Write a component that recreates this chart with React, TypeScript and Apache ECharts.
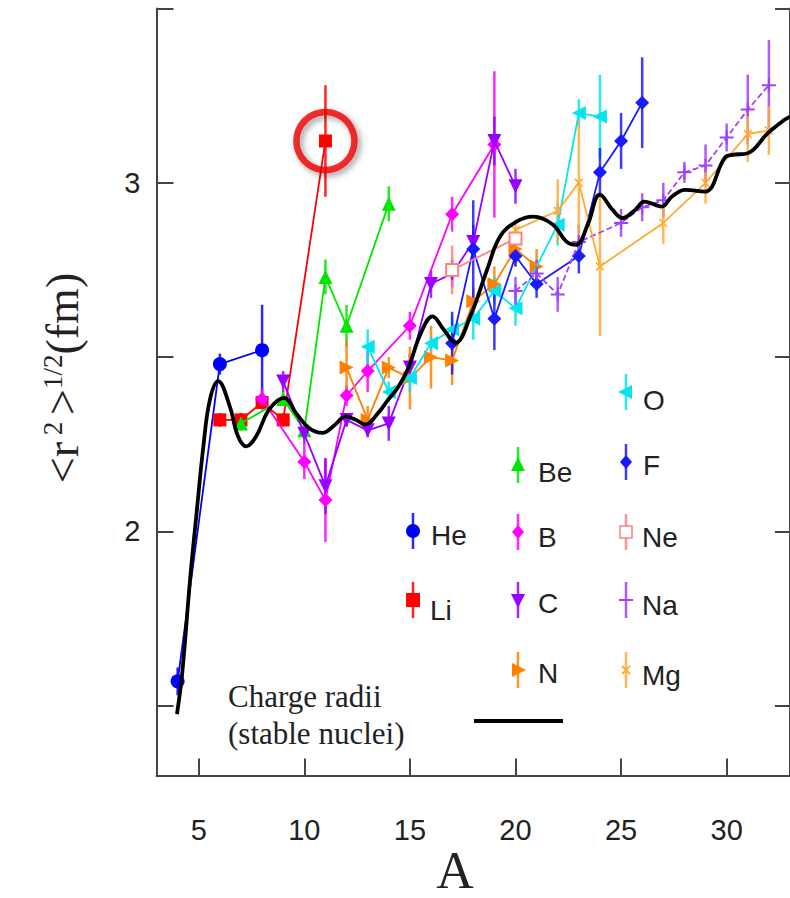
import React, { useEffect, useRef } from "react";
import * as echarts from "echarts";

// ---------- data: [A, radius (fm), error] ----------
const He = [[4, 1.57, 0.04], [6, 2.48, 0.03], [8, 2.52, 0.13]];
const Li = [[6, 2.32, 0.02], [7, 2.32, 0.02], [8, 2.37, 0.02], [9, 2.32, 0.02], [11, 3.12, 0.16]];
const Be = [[7, 2.31, 0.02], [9, 2.38, 0.02], [10, 2.29, 0.02], [11, 2.73, 0.05], [12, 2.59, 0.06], [14, 2.94, 0.05]];
const Bo = [[8, 2.38, 0.03], [10, 2.2, 0.05], [11, 2.09, 0.12], [12, 2.39, 0.03], [13, 2.46, 0.06], [15, 2.59, 0.04], [17, 2.91, 0.05], [19, 3.11, 0.21]];
const C = [[9, 2.43, 0.03], [10, 2.28, 0.03], [11, 2.13, 0.08], [12, 2.32, 0.02], [13, 2.29, 0.02], [14, 2.31, 0.05], [15, 2.47, 0.04], [16, 2.71, 0.04], [17, 2.74, 0.04], [18, 2.83, 0.05], [19, 3.12, 0.07], [20, 2.99, 0.05]];
const N = [[12, 2.47, 0.08], [13, 2.32, 0.04], [14, 2.47, 0.03], [15, 2.44, 0.09], [16, 2.5, 0.09], [17, 2.49, 0.07], [18, 2.66, 0.04], [19, 2.71, 0.05], [20, 2.81, 0.05], [21, 2.76, 0.05]];
const O = [[13, 2.53, 0.05], [14, 2.4, 0.03], [15, 2.44, 0.04], [16, 2.54, 0.02], [17, 2.58, 0.04], [18, 2.61, 0.06], [19, 2.69, 0.04], [20, 2.64, 0.05], [22, 2.88, 0.06], [23, 3.2, 0.04], [24, 3.19, 0.12]];
const F = [[17, 2.54, 0.09], [18, 2.81, 0.14], [19, 2.61, 0.09], [20, 2.79, 0.03], [21, 2.71, 0.04], [23, 2.79, 0.05], [24, 3.03, 0.07], [25, 3.12, 0.08], [26, 3.23, 0.13]];
const Ne = [[17, 2.75, 0.07], [20, 2.84, 0.03]];
const Na = [[20, 2.69, 0.04], [21, 2.74, 0.04], [22, 2.68, 0.05], [23, 2.83, 0.05], [25, 2.885, 0.04], [26, 2.93, 0.04], [27, 2.95, 0.05], [28, 3.03, 0.03], [29, 3.05, 0.06], [30, 3.13, 0.04], [31, 3.21, 0.1], [32, 3.28, 0.13]];
const Mg = [[20, 2.865, 0.03], [22, 2.92, 0.09], [23, 3.0, 0.18], [24, 2.76, 0.2], [27, 2.885, 0.06], [29, 3.0, 0.06], [31, 3.14, 0.08], [32, 3.15, 0.07]];

// charge radii of stable nuclei (black curve)
const curveA = [3.97, 4.22, 4.59, 4.9, 5.22, 5.53, 5.92, 6.47, 6.86, 7.25, 7.72, 8.34, 9.05, 9.6, 10.22, 10.85, 11.47, 11.94, 12.41, 12.88, 13.5, 13.97, 14.4, 14.9, 15.52, 16.07, 16.6, 17.16, 17.86, 18.65, 19.27, 20.05, 20.84, 21.78, 22.4, 22.87, 23.42, 24.0, 24.59, 25.06, 25.68, 26.1, 26.93, 27.4, 28.03, 28.97, 29.9, 30.25, 31.0, 31.94, 32.72, 33.0];
const curveR = [1.476, 1.595, 1.862, 2.054, 2.244, 2.378, 2.431, 2.359, 2.273, 2.244, 2.273, 2.35, 2.383, 2.34, 2.297, 2.283, 2.307, 2.33, 2.321, 2.307, 2.34, 2.378, 2.41, 2.465, 2.569, 2.617, 2.579, 2.541, 2.617, 2.75, 2.846, 2.889, 2.903, 2.88, 2.832, 2.822, 2.88, 2.966, 2.923, 2.899, 2.923, 2.946, 2.932, 2.96, 2.98, 2.975, 3.071, 3.08, 3.085, 3.142, 3.18, 3.19];

const xTicks = [5, 10, 15, 20, 25, 30];
const yTicks = [1.5, 2, 2.5, 3, 3.5];
const yLabels = [2, 3];
const highlightA = 11; // Li-11 circled

const PLUS = "path://M0,6L14,6L14,8L0,8Z M6,0L8,0L8,14L6,14Z";

const chains = [
  { name: "He", pts: He, color: "#0000ff", symbol: "circle", size: 14, rot: 0, shape: "circle" },
  { name: "Li", pts: Li, color: "#ff0000", symbol: "rect", size: 13, rot: 0, shape: "rect" },
  { name: "Be", pts: Be, color: "#00e600", symbol: "triangle", size: 14, rot: 0, shape: "up" },
  { name: "B", pts: Bo, color: "#ff00ff", symbol: "diamond", size: 14, rot: 0, shape: "diamond" },
  { name: "C", pts: C, color: "#9900ff", symbol: "triangle", size: 14, rot: 180, shape: "down" },
  { name: "N", pts: N, color: "#ff8000", symbol: "triangle", size: 14, rot: -90, shape: "right" },
  { name: "O", pts: O, color: "#00e5f0", symbol: "triangle", size: 14, rot: 90, shape: "left" },
  { name: "F", pts: F, color: "#1a1aff", symbol: "diamond", size: 14, rot: 0, shape: "diamond" },
  { name: "Ne", pts: Ne, color: "#ff8080", symbol: "emptyRect", size: 12, rot: 0, shape: "open" },
  { name: "Na", pts: Na, color: "#a040ff", symbol: PLUS, size: 14, rot: 0, shape: "plus", dashed: true },
  { name: "Mg", pts: Mg, color: "#ffaa33", symbol: PLUS, size: 11, rot: 45, shape: "x" },
];

// legend layout (style only)
const legendPos: Record<string, number[]> = {
  He: [413, 531, 431, 535], Li: [413, 600, 430, 610],
  Be: [518, 465, 538, 472], B: [518, 532, 538, 537], C: [518, 600, 538, 603], N: [518, 670, 538, 673],
  O: [626, 392, 643, 400], F: [626, 462, 643, 465], Ne: [626, 532, 642, 537], Na: [626, 600, 642, 605], Mg: [626, 670, 642, 675],
};

function marker(shape: string, cx: number, cy: number, color: string): any[] {
  const poly = (pts: number[][]) => [{ type: "polygon", shape: { points: pts }, style: { fill: color } }];
  switch (shape) {
    case "circle": return [{ type: "circle", shape: { cx, cy, r: 7 }, style: { fill: color } }];
    case "rect": return [{ type: "rect", shape: { x: cx - 7, y: cy - 7, width: 14, height: 14 }, style: { fill: color } }];
    case "up": return poly([[cx, cy - 8], [cx + 7, cy + 6], [cx - 7, cy + 6]]);
    case "down": return poly([[cx, cy + 8], [cx + 7, cy - 6], [cx - 7, cy - 6]]);
    case "right": return poly([[cx + 8, cy], [cx - 6, cy - 7], [cx - 6, cy + 7]]);
    case "left": return poly([[cx - 8, cy], [cx + 6, cy - 7], [cx + 6, cy + 7]]);
    case "diamond": return poly([[cx, cy - 7], [cx + 6, cy], [cx, cy + 7], [cx - 6, cy]]);
    case "open": return [{ type: "rect", shape: { x: cx - 6, y: cy - 6, width: 12, height: 12 }, style: { fill: "#fff", stroke: color, lineWidth: 1.5 } }];
    case "plus": return [{ type: "line", shape: { x1: cx - 7, y1: cy, x2: cx + 7, y2: cy }, style: { stroke: color, lineWidth: 2 } }];
    case "x": return [
      { type: "line", shape: { x1: cx - 4, y1: cy - 4, x2: cx + 4, y2: cy + 4 }, style: { stroke: color, lineWidth: 1.8 } },
      { type: "line", shape: { x1: cx - 4, y1: cy + 4, x2: cx + 4, y2: cy - 4 }, style: { stroke: color, lineWidth: 1.8 } },
    ];
  }
  return [];
}

export default function App() {
  const ref = useRef<HTMLDivElement>(null);
  useEffect(() => {
    if (!ref.current) return;
    const chart = echarts.init(ref.current, undefined, { renderer: "svg" });
    const series: any[] = [];
    chains.forEach((c, i) => {
      series.push({
        type: "custom",
        name: c.name + "-err",
        silent: true,
        z: 2,
        encode: { x: 0, y: [1, 2] },
        data: c.pts.map((p) => [p[0], p[1] - p[2], p[1] + p[2]]),
        renderItem: (params: any, api: any) => {
          const a = api.coord([api.value(0), api.value(1)]);
          const b = api.coord([api.value(0), api.value(2)]);
          return { type: "line", shape: { x1: a[0], y1: a[1], x2: b[0], y2: b[1] }, style: { stroke: c.color, lineWidth: 2.5, opacity: 0.85 } };
        },
      });
      series.push({
        type: "line",
        name: c.name,
        z: 3 + i * 0.01,
        data: c.pts.map((p) => [p[0], p[1]]),
        symbol: c.symbol,
        symbolSize: c.size,
        symbolRotate: c.rot,
        showSymbol: true,
        lineStyle: { color: c.color, width: 1.8, type: (c as any).dashed ? [6, 3] : "solid" },
        itemStyle: { color: c.color, borderColor: c.color, borderWidth: c.shape === "open" ? 1.5 : 0 },
      });
    });
    series.push({
      type: "line",
      name: "stable",
      z: 5,
      data: curveA.map((a, i) => [a, curveR[i]]),
      smooth: 0.4,
      showSymbol: false,
      lineStyle: { color: "#000", width: 3.8 },
    });
    const hl = Li.find((p) => p[0] === highlightA)!;
    series.push({
      type: "scatter",
      name: "highlight",
      z: 10,
      silent: true,
      data: [[hl[0], hl[1]]],
      symbol: "circle",
      symbolSize: 58,
      itemStyle: {
        color: "rgba(0,0,0,0)",
        borderColor: "#ee0000",
        borderWidth: 6.5,
        shadowBlur: 6,
        shadowColor: "rgba(0,0,0,0.45)",
        shadowOffsetX: 3,
        shadowOffsetY: 3,
      },
    });

    const graphic: any[] = [];
    chains.forEach((c) => {
      const [mx, my, tx, ty] = legendPos[c.name];
      graphic.push({ type: "line", shape: { x1: mx, y1: my - 18, x2: mx, y2: my + 18 }, style: { stroke: c.color, lineWidth: 2.5, opacity: 0.85 } });
      marker(c.shape, mx, my, c.color).forEach((g) => graphic.push(g));
      graphic.push({
        type: "text", x: tx, y: ty,
        style: { text: c.name, fill: "#222", fontSize: 28, fontFamily: "Liberation Sans, Arial, sans-serif", align: "left", verticalAlign: "middle", textAlign: "left", textVerticalAlign: "middle" },
      });
    });
    graphic.push({
      type: "text", x: 228, y: 715,
      style: { text: "Charge radii\n(stable nuclei)", fill: "#222", fontSize: 31, lineHeight: 37, fontFamily: "Liberation Serif, Times New Roman, serif", align: "left", verticalAlign: "middle", textAlign: "left", textVerticalAlign: "middle" },
    });
    graphic.push({ type: "line", shape: { x1: 474, y1: 721, x2: 563, y2: 721 }, style: { stroke: "#000", lineWidth: 4 } });
    graphic.push({
      type: "text", x: 455, y: 870,
      style: { text: "A", fill: "#222", fontSize: 52, fontFamily: "Liberation Serif, Times New Roman, serif", align: "center", verticalAlign: "middle", textAlign: "center", textVerticalAlign: "middle" },
    });
    graphic.push({
      type: "text", x: 62, y: 378, rotation: Math.PI / 2,
      style: {
        text: "{b|<r}{s| 2 }{b|>}{s|1/2}{b|(fm)}",
        fill: "#222",
        fontFamily: "Liberation Serif, Times New Roman, serif",
        align: "center", verticalAlign: "middle", textAlign: "center", textVerticalAlign: "middle",
        rich: {
          b: { fontSize: 46, fontFamily: "Liberation Serif, Times New Roman, serif", fill: "#222", verticalAlign: "bottom" },
          s: { fontSize: 27, fontFamily: "Liberation Serif, Times New Roman, serif", fill: "#222", verticalAlign: "top" },
        },
      },
    });

    const axisLine = { show: true, lineStyle: { color: "#444", width: 2 } };
    chart.setOption({
      animation: false,
      backgroundColor: "#fff",
      grid: { left: 156.5, top: 8.5, width: 639.5, height: 767 },
      xAxis: [{
        type: "value", min: 3, max: 33, position: "bottom",
        axisLine,
        splitLine: { show: false },
        axisTick: { inside: true, length: 17, customValues: xTicks, lineStyle: { color: "#444", width: 2 } },
        axisLabel: { customValues: xTicks, fontSize: 29, color: "#222", margin: 40, fontFamily: "Liberation Sans, Arial, sans-serif" },
      }],
      yAxis: [
        {
          type: "value", min: 1.3, max: 3.5, position: "left",
          axisLine,
          splitLine: { show: false },
          axisTick: { inside: true, length: 17, customValues: yTicks, lineStyle: { color: "#444", width: 2 } },
          axisLabel: { customValues: yLabels, fontSize: 29, color: "#222", margin: 16, fontFamily: "Liberation Sans, Arial, sans-serif" },
        },
        {
          type: "value", min: 1.3, max: 3.5, position: "right",
          axisLine,
          splitLine: { show: false },
          axisTick: { inside: true, length: 15, customValues: yTicks, lineStyle: { color: "#444", width: 2 } },
          axisLabel: { show: false },
        },
      ],
      series,
      graphic,
    });
    return () => chart.dispose();
  }, []);
  return <div ref={ref} style={{ position: "absolute", left: 0, top: 0, width: 790, height: 898 }} />;
}
